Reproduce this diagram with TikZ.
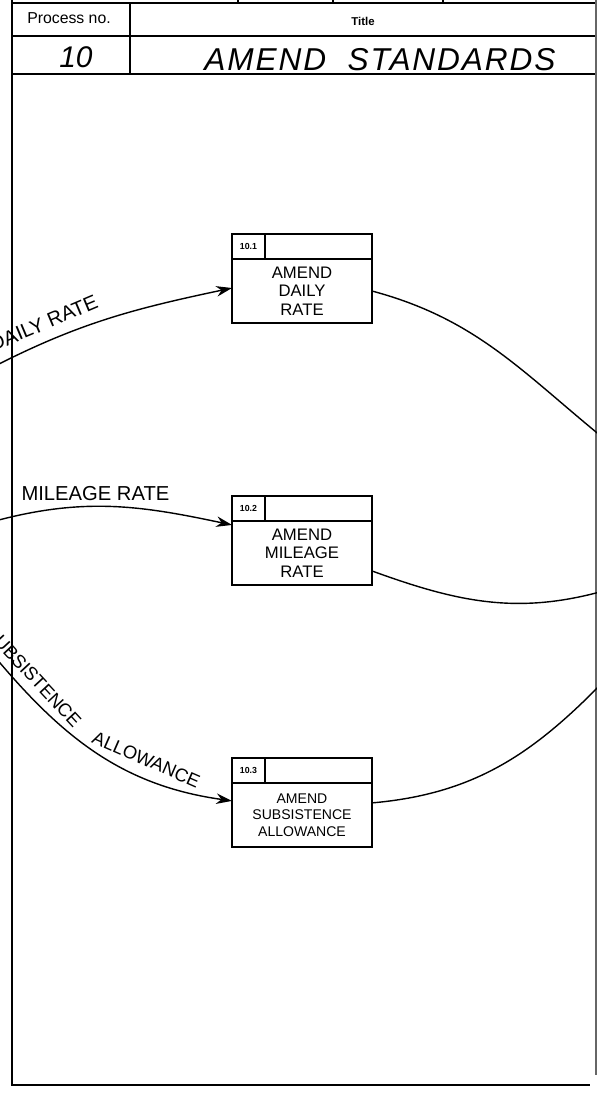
\documentclass[tikz,border=0pt]{standalone}
\usepackage{fontspec}
\setmainfont{Liberation Sans}
\usetikzlibrary{arrows.meta, positioning}

\begin{document}
\begin{tikzpicture}[
    x=0.02cm, y=0.02cm,
    proc/.style = {rectangle, draw, line width=1.1pt, align=center, font=\fontsize{9.5}{10.6}\selectfont, minimum width=2.8cm, minimum height=1.28cm, inner sep=1pt, outer sep=0pt},
    procid/.style = {rectangle, draw, line width=1.1pt, font=\fontsize{5}{6}\selectfont\bfseries, minimum width=0.66cm, minimum height=0.5cm, inner sep=1pt, outer sep=0pt},
    prochd/.style = {rectangle, draw, line width=1.1pt, minimum width=2.14cm, minimum height=0.5cm, outer sep=0pt},
    flow/.style = {draw, ->, >={Stealth[length=9pt, width=6pt]}, line width=0.8pt},
    line/.style = {draw, line width=0.8pt},
    flowlbl/.style = {font=\fontsize{11.5}{13}\selectfont, inner sep=1pt},
    frame/.style = {draw, line width=1pt}
]
\useasboundingbox (0,0) rectangle (597,-1093);
\clip (0,0) rectangle (597,-1093);

% form header
\draw [frame] (12,-3) -- (597,-3);
\draw [frame] (238,0) -- (238,-3) (333,0) -- (333,-3) (443,0) -- (443,-3);
\draw [frame] (12,-36) -- (597,-36);
\draw [frame] (12,-74) -- (597,-74);
\draw [frame] (130,-3) -- (130,-74);
\draw [frame] (12,0) -- (12,-1085) -- (590,-1085);
\draw [line width=0.6pt, black!60] (596,0) -- (596,-1075);

\node (hdrNo) at (69,-18) {\fontsize{9}{10}\selectfont Process no.};
\node (hdrTitle) at (363,-21) {\fontsize{6.5}{8}\selectfont\bfseries Title};
\node (procNo) at (76,-57) {\fontsize{17}{20}\selectfont\itshape 10};
\node (procTitle) at (380,-60) {\fontsize{18}{20}\selectfont\itshape\addfontfeature{LetterSpace=6}AMEND\ \ STANDARDS};

% processes
\node (p1) [proc] at (302,-291) {AMEND\\DAILY\\RATE};
\node (p1id) [procid, above right=0pt and 0pt of p1.north west] {10.1};
\node (p1hd) [prochd, right=0pt of p1id] {};

\node (p2) [proc, below=3.96cm of p1] {AMEND\\MILEAGE\\RATE};
\node (p2id) [procid, above right=0pt and 0pt of p2.north west] {10.2};
\node (p2hd) [prochd, right=0pt of p2id] {};

\node (p3) [proc, below=3.96cm of p2, font=\fontsize{8}{9.4}\selectfont] {AMEND\\SUBSISTENCE\\ALLOWANCE};
\node (p3id) [procid, above right=0pt and 0pt of p3.north west] {10.3};
\node (p3hd) [prochd, right=0pt of p3id] {};

% free ends past the form edge
\coordinate (dailyIn) at (-5,-366);
\coordinate (dailyOut) at (607,-441);
\coordinate (mileIn) at (-5,-521);
\coordinate (mileOut) at (607,-590);
\coordinate (subsIn) at (-5,-657);
\coordinate (subsOut) at (607,-678);

% flows
\draw [flow] (dailyIn) to[out=27, in=192] node[flowlbl, sloped, above=5pt, pos=0.23]{DAILY RATE} ([yshift=0.06cm]p1.west);
\draw [line] (p1.east) to[out=-15, in=141] (dailyOut);
\draw [flow] (mileIn) to[out=15, in=168] node[flowlbl, above=2pt, pos=0.42]{MILEAGE RATE} ([yshift=0.56cm]p2.west);
\draw [line] ([yshift=-0.36cm]p2.east) to[out=-20, in=196] (mileOut);
\draw [flow] (subsIn) to[out=-50, in=172] node[flowlbl, font=\fontsize{10.5}{12}\selectfont, sloped, above=4pt, pos=0.13]{SUBSISTENCE} node[flowlbl, font=\fontsize{10.5}{12}\selectfont, sloped, above=5pt, pos=0.67]{ALLOWANCE} ([yshift=0.28cm]p3.west);
\draw [line] ([yshift=0.24cm]p3.east) to[out=5, in=226] (subsOut);

\end{tikzpicture}
\end{document}
